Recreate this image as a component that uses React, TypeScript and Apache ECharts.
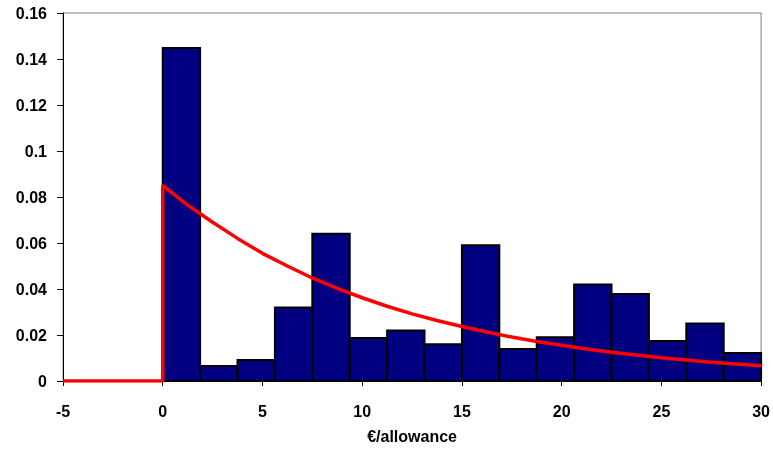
import React, { useEffect, useRef } from "react";
import * as echarts from "echarts";

const binEdges = [0, 1.875, 3.75, 5.625, 7.5, 9.375, 11.25, 13.125, 15, 16.875, 18.75, 20.625, 22.5, 24.375, 26.25, 28.125, 30];
const binValues = [0.1448, 0.0065, 0.0091, 0.032, 0.064, 0.0187, 0.022, 0.016, 0.059, 0.0139, 0.019, 0.042, 0.0378, 0.0174, 0.025, 0.0122];
const curveX = [-5, 0, 0, 1.25, 2.5, 3.75, 5, 6.25, 7.5, 8.75, 10, 11.25, 12.5, 13.75, 15, 16.25, 17.5, 18.75, 20, 21.25, 22.5, 23.75, 25, 26.25, 27.5, 28.75, 30];
const curveY = [0, 0, 0.085, 0.0765, 0.069, 0.062, 0.0555, 0.05, 0.0448, 0.0403, 0.0362, 0.0325, 0.0292, 0.0263, 0.0237, 0.0213, 0.0191, 0.0172, 0.0155, 0.0139, 0.0125, 0.0113, 0.0101, 0.0091, 0.0082, 0.0074, 0.0066];
const yTicks = ["0", "0.02", "0.04", "0.06", "0.08", "0.1", "0.12", "0.14", "0.16"];

export default function App() {
  const ref = useRef<HTMLDivElement>(null);
  useEffect(() => {
    if (!ref.current) return;
    const chart = echarts.init(ref.current, null, { renderer: "svg" });
    const font = { fontFamily: "Liberation Sans, Arial, sans-serif", fontWeight: "bold" as const, fontSize: 16, color: "#000" };
    const barData = binValues.map((v, i) => [binEdges[i], binEdges[i + 1], v]);
    chart.setOption({
      animation: false,
      grid: { left: 63, right: 11, top: 13, bottom: 73, show: true, borderColor: "#808080", borderWidth: 1, backgroundColor: "transparent" },
      xAxis: {
        type: "value", min: -5, max: 30, interval: 5,
        name: "€/allowance", nameLocation: "middle", nameGap: 47,
        nameTextStyle: { ...font },
        axisLine: { show: true, onZero: false, lineStyle: { color: "#000", width: 1 } },
        axisTick: { show: true, length: 5, lineStyle: { color: "#000" } },
        axisLabel: { ...font, margin: 22 },
        splitLine: { show: false },
      },
      yAxis: {
        type: "value", min: 0, max: 0.16, interval: 0.02,
        axisLine: { show: true, onZero: false, lineStyle: { color: "#000", width: 1 } },
        axisTick: { show: true, length: 6, lineStyle: { color: "#000" } },
        axisLabel: { ...font, margin: 16, formatter: (v: number) => yTicks[Math.round(v / 0.02)] ?? String(v) },
        splitLine: { show: false },
      },
      series: [
        {
          type: "custom",
          data: barData,
          encode: { x: [0, 1], y: 2 },
          renderItem: (params: any, api: any) => {
            const p0 = api.coord([api.value(0), api.value(2)]);
            const p1 = api.coord([api.value(1), 0]);
            return {
              type: "rect",
              shape: { x: p0[0], y: p0[1], width: p1[0] - p0[0], height: p1[1] - p0[1] },
              style: { fill: "#000080", stroke: "#000", lineWidth: 2 },
            };
          },
          z: 2,
        },
        {
          type: "line",
          data: curveX.map((x, i) => [x, curveY[i]]),
          symbol: "none",
          smooth: false,
          lineStyle: { color: "#ff0000", width: 3.5 },
          z: 3,
        },
      ],
    });
    return () => chart.dispose();
  }, []);
  return <div ref={ref} style={{ position: "fixed", left: 0, top: 0, width: 773, height: 454 }} />;
}
